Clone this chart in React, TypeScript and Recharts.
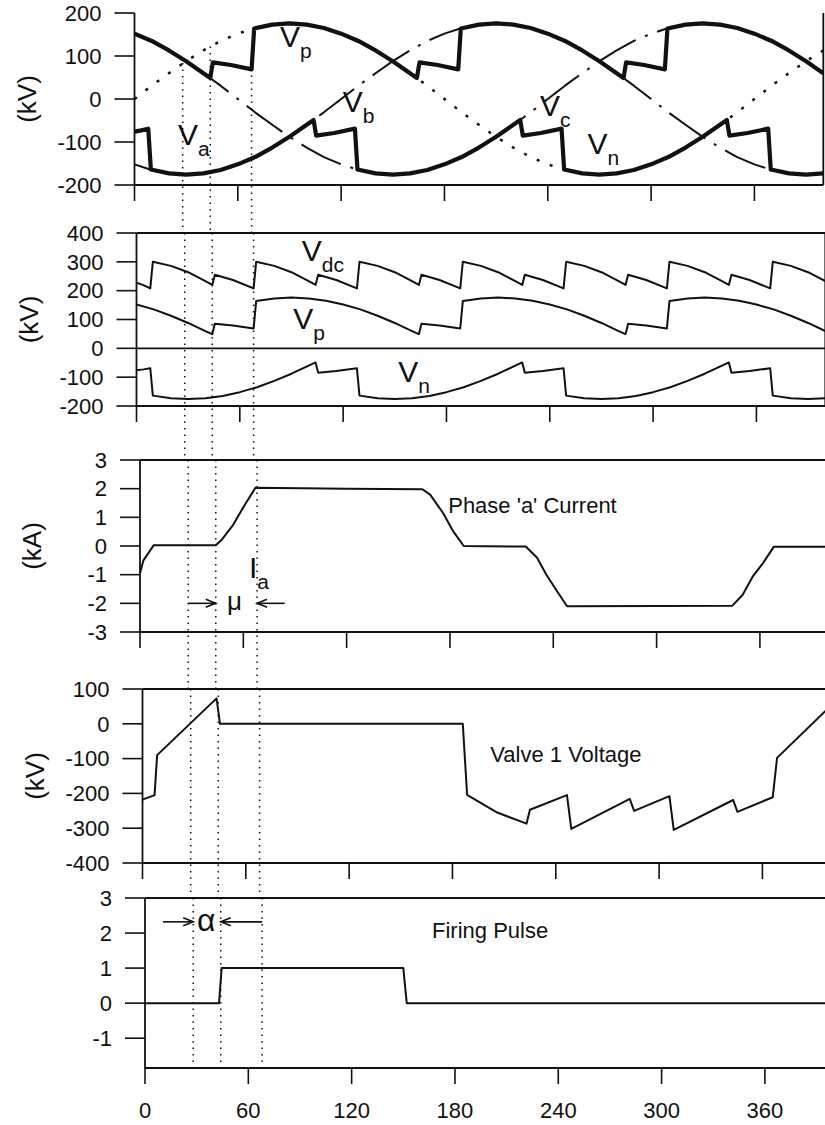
import React from 'react';
import { LineChart, Line, XAxis, YAxis, ReferenceLine, ReferenceDot } from 'recharts';

const INK = '#111';
const FONT = '"Liberation Sans", Arial, Helvetica, sans-serif';

// shared angle axis (degrees)
const ANGLE_TICKS = [0, 60, 120, 180, 240, 300, 360];
const DEG_MAX = 400;
const PX_PER_DEG = 1.722;

// dotted guides: natural commutation, firing instant, end of overlap
const GUIDE_DEG = [28, 44, 68];
const GUIDE_START_KV = [84, 122, 70];

// ac phase voltages, kV, sampled every 10 deg
const SINE_DEG = [0, 10, 20, 30, 40, 50, 60, 70, 80, 90, 100, 110, 120, 130, 140, 150, 160, 170, 180, 190, 200,
  210, 220, 230, 240, 250, 260, 270, 280, 290, 300, 310, 320, 330, 340, 350, 360, 370, 380, 390, 400];
const VA_KV = [0, 31, 60, 88, 113, 135, 152, 165, 173, 176, 173, 165, 152, 135, 113, 88, 60, 31, 0, -31, -60,
  -88, -113, -135, -152, -165, -173, -176, -173, -165, -152, -135, -113, -88, -60, -31, 0, 31, 60, 88, 113];
const VB_KV = [-152, -165, -173, -176, -173, -165, -152, -135, -113, -88, -60, -31, 0, 31, 60, 88, 113, 135, 152, 165, 173,
  176, 173, 165, 152, 135, 113, 88, 60, 31, 0, -31, -60, -88, -113, -135, -152, -165, -173, -176, -173];
const VC_KV = [152, 135, 113, 88, 60, 31, 0, -31, -60, -88, -113, -135, -152, -165, -173, -176, -173, -165, -152, -135, -113,
  -88, -60, -31, 0, 31, 60, 88, 113, 135, 152, 165, 173, 176, 173, 165, 152, 135, 113, 88, 60];

// positive / negative dc pole voltages, kV  [deg, value]
const VP_POINTS = [[0, 152], [10, 135], [20, 113], [30, 88], [40, 60], [44, 49], [45.5, 85], [56, 79], [68, 69],
  [69.5, 164], [80, 173], [90, 176], [100, 173], [110, 165], [120, 152], [130, 135], [140, 113], [150, 88], [160, 60],
  [164, 49], [165.5, 85], [176, 79], [188, 69], [189.5, 164], [200, 173], [210, 176], [220, 173], [230, 165], [240, 152],
  [250, 135], [260, 113], [270, 88], [280, 60], [284, 49], [285.5, 85], [296, 79], [308, 69], [309.5, 164], [320, 173],
  [330, 176], [340, 173], [350, 165], [360, 152], [370, 135], [380, 113], [390, 88], [400, 60]];
const VN_POINTS = [[0, -76], [4, -73], [8, -69], [9.5, -164], [20, -173], [30, -176], [40, -173], [50, -165], [60, -152],
  [70, -135], [80, -113], [90, -88], [100, -60], [104, -49], [105.5, -85], [116, -79], [128, -69], [129.5, -164],
  [140, -173], [150, -176], [160, -173], [170, -165], [180, -152], [190, -135], [200, -113], [210, -88], [220, -60],
  [224, -49], [225.5, -85], [236, -79], [248, -69], [249.5, -164], [260, -173], [270, -176], [280, -173], [290, -165],
  [300, -152], [310, -135], [320, -113], [330, -88], [340, -60], [344, -49], [345.5, -85], [356, -79], [368, -69],
  [369.5, -164], [380, -173], [390, -176], [400, -173]];
const VDC_POINTS = [[0, 228], [4, 219], [8, 208], [9.5, 300], [20, 286], [30, 264], [40, 233], [44, 220], [45.5, 255],
  [56, 237], [68, 208], [69.5, 300], [80, 286], [90, 264], [100, 233], [104, 220], [105.5, 255], [116, 237], [128, 208],
  [129.5, 300], [140, 286], [150, 264], [160, 233], [164, 220], [165.5, 255], [176, 237], [188, 208], [189.5, 300],
  [200, 286], [210, 264], [220, 233], [224, 220], [225.5, 255], [236, 237], [248, 208], [249.5, 300], [260, 286],
  [270, 264], [280, 233], [284, 220], [285.5, 255], [296, 237], [308, 208], [309.5, 300], [320, 286], [330, 264],
  [340, 233], [344, 220], [345.5, 255], [356, 237], [368, 208], [369.5, 300], [380, 286], [390, 264], [400, 233]];

// phase 'a' line current, kA
const IA_POINTS = [[0, -0.95], [2, -0.5], [8, 0.03], [44, 0.03], [47.5, 0.22], [54, 0.73], [60, 1.35], [67, 2.03],
  [120, 2.0], [164, 1.98], [168.5, 1.79], [176, 1.15], [182, 0.5], [188, 0], [224, -0.02], [230.5, -0.4], [236, -1.0],
  [242, -1.56], [248, -2.1], [300, -2.09], [344, -2.08], [350, -1.7], [356, -1.05], [362, -0.58], [368, -0.03],
  [400, -0.03]];

// voltage across valve 1, kV
const VALVE_POINTS = [[0, -218], [7, -205], [8.5, -90], [43, 73], [45, 0], [120, 0], [186, 0], [188.5, -204],
  [206, -255], [223, -287], [225, -247], [246.5, -205], [249, -302], [283, -216], [285.5, -250], [306, -208],
  [308.5, -305], [343, -219], [345.5, -253], [366, -211], [368.5, -98], [400, 53]];

// valve 1 firing pulse
const PULSE_POINTS = [[0, 0], [43, 0], [44.5, 1], [150, 1], [152, 0], [400, 0]];

type Row = { t: number; v: number };
const rows = (pts: number[][]): Row[] => pts.map(([t, v]) => ({ t, v }));
const sampled = (vals: number[]): Row[] => SINE_DEG.map((t, i) => ({ t, v: vals[i] }));

type Layout = {
  svgTop: number; svgBottom: number; plotTop: number; plotBottom: number; x0: number;
  lo: number; hi: number; ticks: number[];
};

const P1: Layout = { svgTop: 0, svgBottom: 233, plotTop: 13, plotBottom: 185, x0: 134.5, lo: -200, hi: 200,
  ticks: [-200, -100, 0, 100, 200] };
const P2: Layout = { svgTop: 213, svgBottom: 460, plotTop: 233, plotBottom: 406, x0: 136.5, lo: -200, hi: 400,
  ticks: [-200, -100, 0, 100, 200, 300, 400] };
const P3: Layout = { svgTop: 440, svgBottom: 689, plotTop: 460, plotBottom: 632, x0: 140, lo: -3, hi: 3,
  ticks: [-3, -2, -1, 0, 1, 2, 3] };
const P4: Layout = { svgTop: 669, svgBottom: 898, plotTop: 689, plotBottom: 863, x0: 142.5, lo: -400, hi: 100,
  ticks: [-400, -300, -200, -100, 0, 100] };
const P5: Layout = { svgTop: 878, svgBottom: 1125, plotTop: 898, plotBottom: 1068, x0: 145, lo: -1.85, hi: 3,
  ticks: [-1, 0, 1, 2, 3] };

const X_AXIS_H = 20;
const Y_AXIS_W = 60;

const dims = (l: Layout) => ({
  width: l.x0 + DEG_MAX * PX_PER_DEG + 2,
  height: l.svgBottom - l.svgTop,
  margin: {
    top: l.plotTop - l.svgTop,
    right: 2,
    left: l.x0 - Y_AXIS_W,
    bottom: l.svgBottom - l.plotBottom - X_AXIS_H,
  },
});

// value at the bottom edge of the svg, used to carry the guides through the gap
const belowPlot = (l: Layout) =>
  l.lo - ((l.svgBottom - l.plotBottom) * (l.hi - l.lo)) / (l.plotBottom - l.plotTop);

const frame = (l: Layout, unit: string, showAngles: boolean, topBorder: boolean) => {
  const items = [
    <XAxis key="x" type="number" dataKey="t" domain={[0, DEG_MAX]} ticks={ANGLE_TICKS} interval={0}
      allowDataOverflow height={X_AXIS_H} tickSize={16} tickMargin={showAngles ? 18 : 0}
      tickFormatter={showAngles ? undefined : () => ''}
      axisLine={{ stroke: INK, strokeWidth: 1.8 }} tickLine={{ stroke: INK, strokeWidth: 1.6 }}
      tick={{ fill: INK, fontSize: 22, fontFamily: FONT }} />,
    <YAxis key="y" type="number" domain={[l.lo, l.hi]} ticks={l.ticks} interval={0} allowDataOverflow
      width={Y_AXIS_W} tickSize={20} tickMargin={13}
      axisLine={{ stroke: INK, strokeWidth: 1.8 }} tickLine={{ stroke: INK, strokeWidth: 1.6 }}
      tick={{ fill: INK, fontSize: 22, fontFamily: FONT }}
      label={unit ? { value: unit, angle: -90, position: 'center', dx: -78, fill: INK, fontSize: 26, fontFamily: FONT } : undefined} />,
    <ReferenceLine key="right" x={DEG_MAX} stroke={INK} strokeWidth={1.8} />,
  ];
  if (topBorder) items.push(<ReferenceLine key="top" y={l.hi} stroke={INK} strokeWidth={1.8} />);
  return items;
};

const guides = (l: Layout, from?: number[], stopAtAxis = false) =>
  GUIDE_DEG.map((d, i) => (
    <ReferenceLine key={`g${d}`} ifOverflow="visible" stroke={INK} strokeWidth={1.5} strokeDasharray="1.5 5"
      segment={[{ x: d, y: from ? from[i] : l.hi }, { x: d, y: stopAtAxis ? l.lo : belowPlot(l) }]} />
  ));

const Arrow = (p: any) => {
  const { x1, y1, x2, y2 } = p;
  const d = x2 > x1 ? 1 : -1;
  return (
    <g stroke={INK} strokeWidth={1.6} fill="none">
      <line x1={x1} y1={y1} x2={x2} y2={y2} />
      <polyline points={`${x2 - d * 10},${y2 - 4} ${x2},${y2} ${x2 - d * 10},${y2 + 4}`} />
    </g>
  );
};

const tag = (main: string, sub = '', size = 30) => (p: any) => (
  <text x={p.cx} y={p.cy} fill={INK} fontSize={size} fontFamily={FONT}>
    {main}
    {sub ? <tspan fontSize={21} dy={11}>{sub}</tspan> : null}
  </text>
);

const trace = (key: string, data: Row[], width = 2, dash?: string) => (
  <Line key={key} name={key} data={data} dataKey="v" type="linear" stroke={INK} strokeWidth={width}
    strokeDasharray={dash} strokeLinejoin="round" dot={false} activeDot={false} isAnimationActive={false} />
);

const place = (l: Layout) => ({ position: 'absolute' as const, left: 0, top: l.svgTop });

export default function App() {
  return (
    <div style={{ position: 'absolute', left: 0, top: 0, width: 825, height: 1125, overflow: 'hidden',
      background: '#fff', fontFamily: FONT }}>
      <style>{'.recharts-surface{overflow:visible}'}</style>

      {/* ac side: phase voltages and pole voltages */}
      <div style={place(P1)}>
        <LineChart {...dims(P1)}>
          {frame(P1, '(kV)', false, false)}
          {trace('Va', sampled(VA_KV), 2.5, '3 11')}
          {trace('Vb', sampled(VB_KV), 2, '44 10 3 10')}
          {trace('Vc', sampled(VC_KV), 2, '44 10 3 10')}
          {trace('Vp', rows(VP_POINTS), 4.2)}
          {trace('Vn', rows(VN_POINTS), 4.2)}
          {guides(P1, GUIDE_START_KV)}
          <ReferenceDot x={84.5} y={122} shape={tag('V', 'p')} />
          <ReferenceDot x={25.3} y={-107} shape={tag('V', 'a')} />
          <ReferenceDot x={121} y={-30} shape={tag('V', 'b')} />
          <ReferenceDot x={235.5} y={-39} shape={tag('V', 'c')} />
          <ReferenceDot x={263} y={-128} shape={tag('V', 'n')} />
        </LineChart>
      </div>

      {/* dc side */}
      <div style={place(P2)}>
        <LineChart {...dims(P2)}>
          {frame(P2, '(kV)', false, true)}
          <ReferenceLine y={0} stroke={INK} strokeWidth={1.8} />
          {trace('Vdc', rows(VDC_POINTS))}
          {trace('Vp2', rows(VP_POINTS))}
          {trace('Vn2', rows(VN_POINTS))}
          {guides(P2)}
          <ReferenceDot x={96} y={303} shape={tag('V', 'dc')} />
          <ReferenceDot x={91} y={68} shape={tag('V', 'p')} />
          <ReferenceDot x={152} y={-118} shape={tag('V', 'n')} />
        </LineChart>
      </div>

      {/* phase current */}
      <div style={place(P3)}>
        <LineChart {...dims(P3)}>
          {frame(P3, '(kA)', false, true)}
          {trace('Ia', rows(IA_POINTS))}
          {guides(P3)}
          <ReferenceLine segment={[{ x: 28, y: -2 }, { x: 44, y: -2 }]} shape={Arrow} />
          <ReferenceLine segment={[{ x: 84, y: -2 }, { x: 68, y: -2 }]} shape={Arrow} />
          <ReferenceDot x={50.5} y={-2.24} shape={tag('μ', '', 26)} />
          <ReferenceDot x={63.3} y={-1.13} shape={tag('I', 'a')} />
          <ReferenceDot x={179} y={1.14} shape={tag("Phase 'a' Current", '', 22)} />
        </LineChart>
      </div>

      {/* valve voltage */}
      <div style={place(P4)}>
        <LineChart {...dims(P4)}>
          {frame(P4, '(kV)', false, true)}
          {trace('valve', rows(VALVE_POINTS))}
          {guides(P4)}
          <ReferenceDot x={202} y={-111} shape={tag('Valve 1 Voltage', '', 22)} />
        </LineChart>
      </div>

      {/* firing pulse */}
      <div style={place(P5)}>
        <LineChart {...dims(P5)}>
          {frame(P5, '', true, true)}
          {trace('pulse', rows(PULSE_POINTS))}
          {guides(P5, undefined, true)}
          <ReferenceLine segment={[{ x: 10.5, y: 2.32 }, { x: 28, y: 2.32 }]} shape={Arrow} />
          <ReferenceLine segment={[{ x: 68, y: 2.32 }, { x: 44, y: 2.32 }]} shape={Arrow} />
          <ReferenceDot x={30.2} y={2.06} shape={tag('α', '', 32)} />
          <ReferenceDot x={166.7} y={1.85} shape={tag('Firing Pulse', '', 22)} />
        </LineChart>
      </div>
    </div>
  );
}
